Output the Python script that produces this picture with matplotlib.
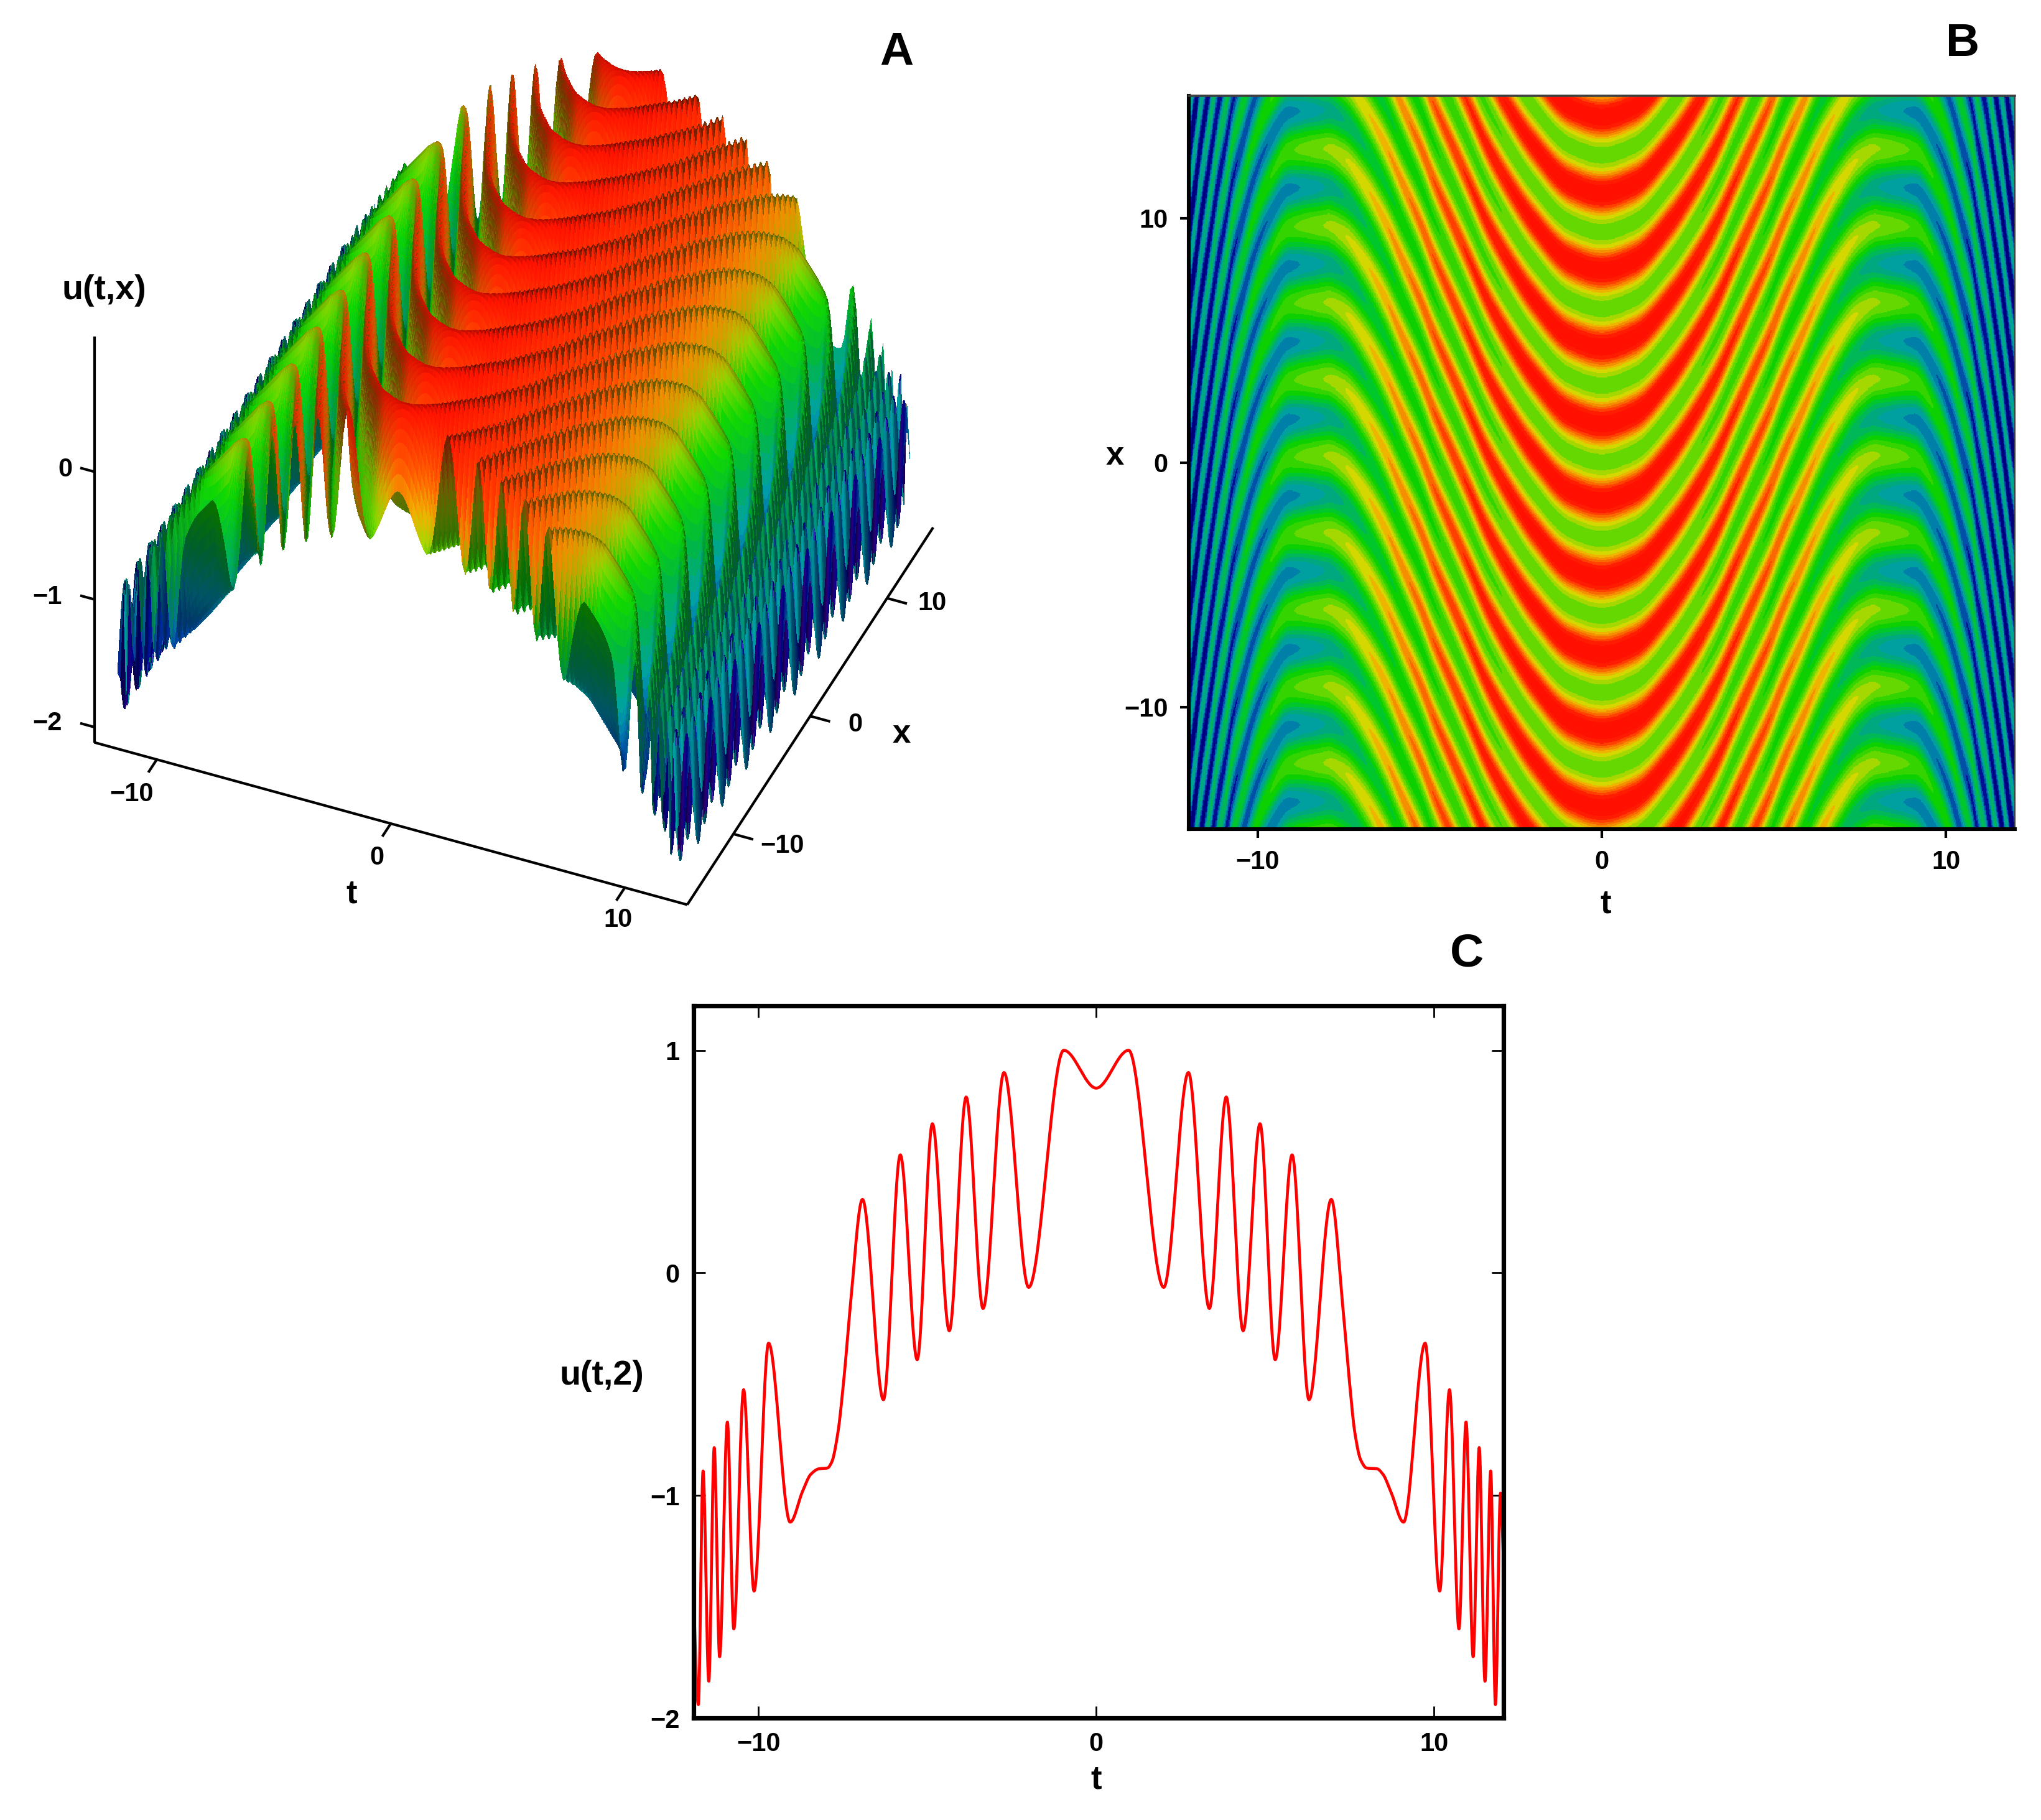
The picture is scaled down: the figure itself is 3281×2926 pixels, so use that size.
import numpy as np
import matplotlib
matplotlib.use("Agg")
import matplotlib.pyplot as plt
from matplotlib.colors import LinearSegmentedColormap, ListedColormap, BoundaryNorm, Normalize
from mpl_toolkits.mplot3d import proj3d

W, H, DPI = 3281, 2926, 200

# ---- values -----------------------------------------------------------------
# panel C: extrema and shoulder of u(t,2)
curve_t = [-12.0, -11.78, -11.64, -11.47, -11.31, -11.15, -10.92, -10.73, -10.44, -10.13, -9.70,
           -9.06, -8.69, -8.45, -8.2, -7.96, -7.83, -7.65, -7.46, -7.28, -6.92, -6.30, -5.80, -5.30, -4.85,
           -4.35, -3.85, -3.35, -2.73, -2.00, -0.96, 0.0, 0.96, 2.00, 2.73, 3.35, 3.85, 4.35,
           4.85, 5.30, 5.80, 6.30, 6.96, 7.30, 7.48, 7.66, 7.83, 8.01, 8.31, 8.49, 8.74, 9.10, 9.74, 10.17,
           10.46, 10.74, 10.95, 11.16, 11.34, 11.51, 11.68, 11.82, 11.97, 12.06]
curve_u = [-1.0, -1.94, -0.89, -1.835, -0.785, -1.725, -0.67, -1.60, -0.525, -1.43, -0.316,
           -1.12, -0.98, -0.905, -0.88, -0.877, -0.85, -0.72, -0.46, -0.15, 0.33, -0.57, 0.53, -0.39, 0.67,
           -0.26, 0.79, -0.16, 0.90, -0.065, 1.0, 0.83, 1.0, -0.065, 0.90, -0.16, 0.79, -0.26,
           0.67, -0.39, 0.53, -0.57, 0.33, -0.15, -0.46, -0.72, -0.84, -0.877, -0.88, -0.905, -0.99, -1.12,
           -0.316, -1.43, -0.525, -1.60, -0.67, -1.725, -0.785, -1.835, -0.89, -1.94, -0.99, -1.3]

# panels A and B: crest and trough heights, and the count of stripes crossed at x = 2
upper_t = [0, 0.96, 2.73, 3.85, 4.85, 5.8, 6.92, 9.72, 10.45, 10.93, 11.32, 11.66, 12.2]
upper_u = [1.0, 1.0, 0.89, 0.78, 0.67, 0.53, 0.33, -0.32, -0.525, -0.67, -0.785, -0.89, -1.05]
lower_t = [0, 2.0, 3.35, 4.35, 5.3, 6.3, 9.1, 10.15, 10.74, 11.15, 11.49, 11.8, 12.2]
lower_u = [-0.03, -0.065, -0.16, -0.26, -0.39, -0.565, -1.25, -1.43, -1.6, -1.725, -1.835, -1.94, -2.05]
stripe_t = [0, 0.96, 2.0, 2.73, 3.35, 3.85, 4.35, 4.85, 5.3, 5.8, 6.3, 6.92, 7.5, 8.0, 8.5, 9.08,
            9.72, 10.15, 10.45, 10.74, 10.93, 11.15, 11.32, 11.49, 11.66, 11.8, 11.96, 12.2]
stripe_n = [-0.135, 0, 0.5, 1, 1.5, 2, 2.5, 3, 3.5, 4, 4.5, 5, 5.33, 5.45, 5.45, 5.42,
            5, 4.5, 4, 3.5, 3, 2.5, 2, 1.5, 1, 0.5, 0, -0.7]
x_period = 3.14

ticks_t = [-10, 0, 10]
ticks_x = [-10, 0, 10]
ticks_u3d = [-2, -1, 0]
ticks_u2d = [-2, -1, 0, 1]

level_bounds = [-2.2, -1.75, -1.55, -1.35, -1.18, -1.0, -0.85, -0.68, -0.5, -0.3, -0.12, 0.08, 0.22,
                0.36, 0.46, 0.56, 0.66, 0.76, 0.88, 1.1]
level_colors = ["#00007c", "#000f94", "#0050a8", "#0080a8", "#00a0a0", "#00a880", "#00b858", "#00c82c",
                "#0cd000", "#34d400", "#64d800", "#a4d800", "#d4d800", "#eeb400", "#f49000", "#fa6800",
                "#ff4000", "#ff1c00", "#ff1000"]
smooth_colors = [(0.0, "#2a0080"), (0.10, "#000090"), (0.22, "#0050b0"), (0.34, "#00a0a8"), (0.48, "#00b840"),
                 (0.60, "#10d800"), (0.70, "#a8d800"), (0.78, "#f0b000"), (0.87, "#ff6000"), (1.0, "#ff1400")]

plt.rcParams["font.family"] = ["Liberation Sans", "DejaVu Sans"]
plt.rcParams["font.weight"] = "bold"
plt.rcParams["axes.unicode_minus"] = True


def pchip(xk, yk, x):
    xk, yk = np.asarray(xk, float), np.asarray(yk, float)
    h = np.diff(xk)
    d = np.diff(yk) / h
    m = np.zeros_like(yk)
    m[0], m[-1] = d[0], d[-1]
    for i in range(1, len(xk) - 1):
        if d[i - 1] * d[i] > 0:
            w1, w2 = 2 * h[i] + h[i - 1], h[i] + 2 * h[i - 1]
            m[i] = (w1 + w2) / (w1 / d[i - 1] + w2 / d[i])
    i = np.clip(np.searchsorted(xk, x) - 1, 0, len(h) - 1)
    s = (x - xk[i]) / h[i]
    return ((2 * s**3 - 3 * s**2 + 1) * yk[i] + (s**3 - 2 * s**2 + s) * h[i] * m[i]
            + (-2 * s**3 + 3 * s**2) * yk[i + 1] + (s**3 - s**2) * h[i] * m[i + 1])


def mirrored(tk, yk):
    tk, yk = np.asarray(tk, float), np.asarray(yk, float)
    return np.r_[-tk[:0:-1], tk], np.r_[yk[:0:-1], yk]


def field(t, x):
    up = pchip(*mirrored(upper_t, upper_u), t)
    lo = pchip(*mirrored(lower_t, lower_u), t)
    n = pchip(*mirrored(stripe_t, stripe_n), t)
    return (up + lo) / 2 + (up - lo) / 2 * np.cos(2 * np.pi * (n - (x - 2) / x_period))


def rect(x0, y0, x1, y1):
    return [x0 / W, 1 - y1 / H, (x1 - x0) / W, (y1 - y0) / H]


def label(x, y, s, size=15, **kw):
    fig.text(x / W, 1 - y / H, s, fontsize=size, fontweight="bold", ha="center", va="center", **kw)


def minus(v):
    return str(v).replace("-", "\u2212")


fig = plt.figure(figsize=(W / DPI, H / DPI), dpi=DPI, facecolor="white")

# ---- panel A ------------------------------------------------------------------
ax3 = fig.add_axes([0.0, 0.45, 0.5, 0.55], projection="3d", facecolor="none", computed_zorder=False)
ax3.set_proj_type("ortho")
ax3.view_init(elev=40.4, azim=-67.1)
ax3.set_box_aspect((495, 486, 410))
tlim, xlim, zlim = (-12.67, 12.67), (-16, 16), (-2.12, 1.06)
ax3.set_xlim(*tlim)
ax3.set_ylim(*xlim)
ax3.set_zlim(*zlim)
ax3.set_axis_off()


def project(p):
    X, Y, _ = proj3d.proj_transform(p[0], p[1], p[2], ax3.get_proj())
    a = ax3.transData.transform((X, Y))
    return np.array([a[0], H - a[1]])


targets = [((tlim[0], xlim[0], zlim[0]), (151.5, 1194)), ((tlim[1], xlim[0], zlim[0]), (1105, 1454)),
           ((tlim[1], xlim[1], zlim[0]), (1500, 848))]
for _ in range(3):
    ax3.apply_aspect()
    cur = np.array([project(p) for p, _ in targets])
    tar = np.array([q for _, q in targets])
    s = np.linalg.norm(tar[1] - tar[0]) / np.linalg.norm(cur[1] - cur[0])
    shift = tar.mean(0) - cur.mean(0)
    pos = ax3.get_position(original=True)
    bb = np.array([pos.x0 * W, pos.y0 * H, pos.width * W, pos.height * H])
    cx, cy = cur.mean(0)
    cy = H - cy
    nw, nh = bb[2] * s, bb[3] * s
    nx = cx + shift[0] + (bb[0] - cx) * s
    ny = cy - shift[1] + (bb[1] - cy) * s
    ax3.set_position([nx / W, ny / H, nw / W, nh / H])

T3, X3 = np.meshgrid(np.linspace(-12, 12, 190), np.linspace(15, -15, 260))
Z3 = field(T3, X3)
smooth = LinearSegmentedColormap.from_list("surface", smooth_colors, N=512)
rgb = smooth(Normalize(-2.0, 1.0)(Z3))
dz_dx, dz_dt = np.gradient(Z3, X3[1, 0] - X3[0, 0], T3[0, 1] - T3[0, 0])
nt, nx_, nz = -dz_dt * 0.85, -dz_dx * 1.0, np.ones_like(Z3)
nn = np.sqrt(nt**2 + nx_**2 + nz**2)


def channel_shade(direction, base, gain, floor):
    d = np.asarray(direction, float)
    d = d / np.linalg.norm(d)
    dot = np.clip((nt * d[0] + nx_ * d[1] + nz * d[2]) / nn, 0, 1)
    return np.clip(base + gain * dot, floor, 1.0)


# a separate light per colour channel gives the brown left flanks and dark green walls
rgb[..., 0] *= channel_shade((0.62, -0.62, 0.48), 0.38, 0.95, 0.45)
rgb[..., 1] *= channel_shade((-0.05, -0.85, 0.50), 0.38, 0.75, 0.52)
rgb[..., 2] *= channel_shade((0.10, -0.80, 0.60), 0.45, 0.70, 0.60)
# rows run from the far edge to the near edge, so nearer rows paint over farther ones
for i in range(T3.shape[0] - 1):
    ax3.plot_surface(T3[i:i + 2], X3[i:i + 2], Z3[i:i + 2], facecolors=rgb[i:i + 2], rstride=1, cstride=1,
                     linewidth=0, antialiased=False, shade=False, zorder=i + 1)

axis_kw = dict(color="black", lw=1.5, solid_capstyle="butt", zorder=1000)
ax3.plot([tlim[0], tlim[1]], [xlim[0], xlim[0]], [zlim[0], zlim[0]], **axis_kw)
ax3.plot([tlim[1], tlim[1]], [xlim[0], xlim[1]], [zlim[0], zlim[0]], **axis_kw)
ax3.plot([tlim[0], tlim[0]], [xlim[0], xlim[0]], [zlim[0], zlim[1]], **axis_kw)
for v in ticks_t:
    ax3.plot([v, v], [xlim[0], xlim[0] - 1.1], [zlim[0], zlim[0]], **axis_kw)
for v in ticks_x:
    ax3.plot([tlim[1], tlim[1] + 0.85], [v, v], [zlim[0], zlim[0]], **axis_kw)
for v in ticks_u3d:
    ax3.plot([tlim[0], tlim[0] - 0.6], [xlim[0], xlim[0]], [v, v], **axis_kw)

label(1441, 85, "A", 27)
label(167, 467, "u(t,x)", 20)
for v, (px, py) in zip(ticks_u3d, [(76, 1163), (76, 960), (105, 755)]):
    label(px, py, minus(v))
for v, (px, py) in zip(ticks_t, [(212, 1277), (606, 1379), (994, 1479)]):
    label(px, py, minus(v))
for v, (px, py) in zip(ticks_x, [(1258, 1360), (1375, 1165), (1499, 970)]):
    label(px, py, minus(v))
label(565, 1438, "t", 19)
label(1449, 1180, "x", 19)

# ---- panel B ------------------------------------------------------------------
axb = fig.add_axes(rect(1911, 154, 3239, 1333))
Tb, Xb = np.meshgrid(np.linspace(-12, 12, 1000), np.linspace(-15, 15, 1000))
axb.pcolormesh(Tb, Xb, field(Tb, Xb), cmap=ListedColormap(level_colors),
               norm=BoundaryNorm(level_bounds, len(level_colors)), shading="auto", rasterized=True)
axb.set_xlim(-12, 12)
axb.set_ylim(-15, 15)
axb.set_xticks(ticks_t)
axb.set_yticks(ticks_x)
axb.set_xticklabels([minus(v) for v in ticks_t])
axb.set_yticklabels([minus(v) for v in ticks_x])
axb.tick_params(direction="out", length=5, width=1.5, labelsize=15, pad=7)
axb.spines["left"].set_linewidth(2.2)
axb.spines["bottom"].set_linewidth(2.2)
axb.spines["top"].set_linewidth(1.3)
axb.spines["top"].set_color("#404040")
axb.spines["right"].set_linewidth(0.8)
axb.spines["right"].set_color("#404040")
label(3155, 70, "B", 27)
label(1792, 733, "x", 19)
label(2581, 1454, "t", 19)

# ---- panel C ------------------------------------------------------------------
axc = fig.add_axes(rect(1115, 1617, 2417, 2762))
t_line = np.linspace(curve_t[0], curve_t[-1], 4800)
axc.plot(t_line, pchip(curve_t, curve_u, t_line), color="#ff0000", lw=1.7, solid_joinstyle="round")
axc.set_xlim(-11.92, 12.06)
axc.set_ylim(-2, 1.2)
axc.set_xticks(ticks_t)
axc.set_yticks(ticks_u2d)
axc.set_xticklabels([minus(v) for v in ticks_t])
axc.set_yticklabels([minus(v) for v in ticks_u2d])
axc.tick_params(direction="in", length=7, width=1.0, labelsize=15, pad=8, top=True, right=True)
for sp in axc.spines.values():
    sp.set_linewidth(2.6)
label(2358, 1534, "C", 27)
label(967, 2212, "u(t,2)", 20)
label(1762, 2862, "t", 19)

fig.savefig("out.png", dpi=DPI, facecolor="white")
